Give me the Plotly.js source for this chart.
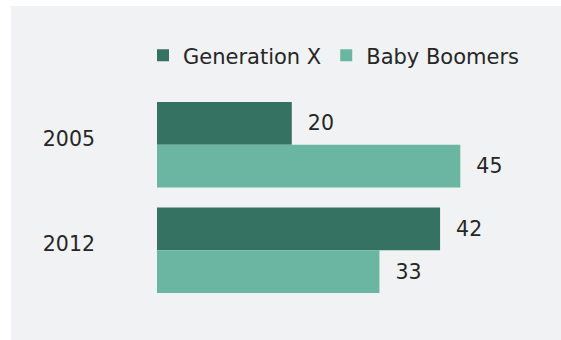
<!DOCTYPE html>
<html>
<head>
<meta charset="utf-8">
<script src="https://cdn.plot.ly/plotly-3.0.1.min.js"></script>
<style>
  html, body { margin: 0; padding: 0; background: #ffffff; }
  #chart { position: absolute; left: 11px; top: 6px; width: 550px; height: 334px; }
</style>
</head>
<body>
<div id="chart"></div>
<script>
// Data
const years = ["2005", "2012"];
const seriesNames = ["Generation X", "Baby Boomers"];
const genX = [20, 42];
const babyBoomers = [45, 33];
const colors = ["#367262", "#6bb5a3"];

const FONT = "DejaVu Sans, Verdana, sans-serif";
const TXT = "#262626";
const pad = "\u00a0\u00a0";

const traces = [genX, babyBoomers].map((vals, i) => ({
  type: "bar",
  orientation: "h",
  name: seriesNames[i],
  y: years,
  x: vals,
  marker: { color: colors[i] },
  text: vals.map(v => pad + v),
  textposition: "outside",
  textfont: { family: FONT, size: 20.5, color: TXT },
  constraintext: "none",
  cliponaxis: false,
  hoverinfo: "none"
}));

const layout = {
  width: 550,
  height: 334,
  paper_bgcolor: "#f1f2f4",
  plot_bgcolor: "#f1f2f4",
  barmode: "group",
  bargap: 0.19,
  bargroupgap: 0,
  margin: { l: 146, r: 67, t: 85.5, b: 36.5, pad: 0 },
  font: { family: FONT, size: 20.5, color: TXT },
  showlegend: true,
  legend: {
    orientation: "h",
    xref: "paper",
    yref: "paper",
    x: (132 - 146) / 337,
    xanchor: "left",
    y: 1 + (85.5 - 49) / 212,
    yanchor: "middle",
    traceorder: "normal",
    bgcolor: "rgba(0,0,0,0)",
    font: { family: FONT, size: 21, color: TXT }
  },
  xaxis: {
    range: [0, 50],
    visible: false,
    showgrid: false,
    zeroline: false
  },
  yaxis: {
    type: "category",
    range: [1.5, -0.5],
    showgrid: false,
    zeroline: false,
    showline: false,
    ticks: "",
    ticklabelstandoff: 61,
    ticklabelshift: 6,
    tickfont: { family: FONT, size: 20.5, color: TXT }
  }
};

Plotly.newPlot("chart", traces, layout, { displayModeBar: false, staticPlot: true });
</script>
</body>
</html>
